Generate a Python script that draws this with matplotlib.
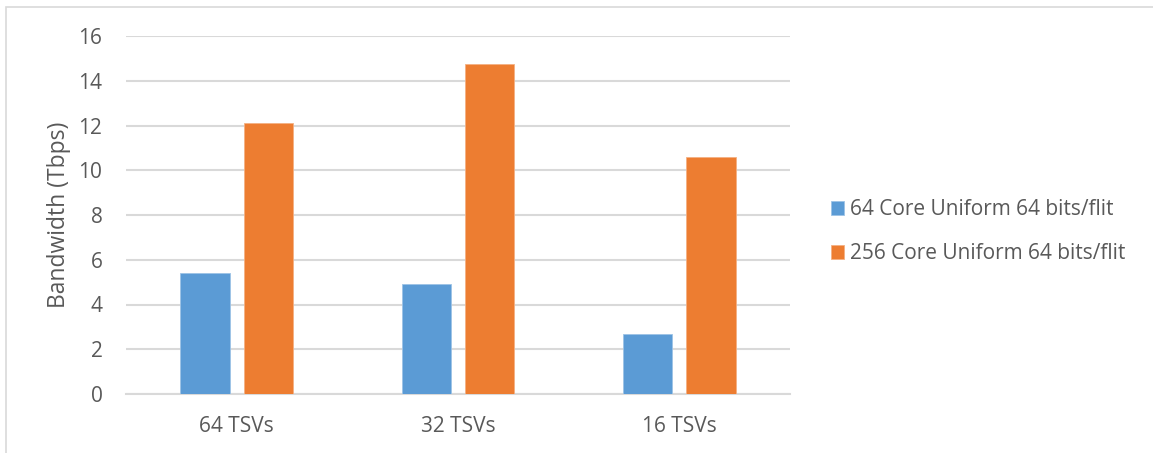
import matplotlib
matplotlib.use("Agg")
import matplotlib.pyplot as plt
from matplotlib.patches import Rectangle
import numpy as np

plt.rcParams['font.family'] = ['Open Sans', 'DejaVu Sans']

categories = ["64 TSVs", "32 TSVs", "16 TSVs"]
series_names = ["64 Core Uniform 64 bits/flit", "256 Core Uniform 64 bits/flit"]
core64 = [5.4, 4.9, 2.7]
core256 = [12.1, 14.75, 10.6]
y_ticks = [0, 2, 4, 6, 8, 10, 12, 14, 16]

W, H = 1153, 453
fig = plt.figure(figsize=(W / 100, H / 100), dpi=100)
text_color = "#595959"
grid_color = "#D9D9D9"

# light outer chart border
fig.patches.append(Rectangle((6 / W, -0.1), 1.2, (H - 7) / H + 0.1,
                             transform=fig.transFigure, fill=False,
                             edgecolor=grid_color, linewidth=1.2))

ax = fig.add_axes([126 / W, (H - 394) / H, (790 - 126) / W, (394 - 36) / H])

x = np.arange(len(categories))
width = 0.224
offset = 0.143
ax.bar(x - offset, core64, width, color="#5B9BD5", edgecolor="#9DC3E6",
       linewidth=0.6, label=series_names[0], zorder=3)
ax.bar(x + offset, core256, width, color="#ED7D31", edgecolor="#F4B183",
       linewidth=0.6, label=series_names[1], zorder=3)

ax.set_xlim(-0.5, 2.5)
ax.set_ylim(0, 16)
ax.set_yticks(y_ticks)
ax.set_yticklabels([str(v) for v in y_ticks])
ax.set_xticks(x)
ax.set_xticklabels(categories)

ax.yaxis.grid(True, color=grid_color, linewidth=1.5, zorder=0)
ax.set_axisbelow(True)
for side in ("top", "right", "left"):
    ax.spines[side].set_visible(False)
ax.spines["bottom"].set_color(grid_color)
ax.spines["bottom"].set_linewidth(1.5)
ax.tick_params(axis="both", length=0, labelsize=15, colors=text_color)
ax.tick_params(axis="y", pad=17)
ax.tick_params(axis="x", pad=16)

ax.set_ylabel("Bandwidth (Tbps)", fontsize=16.5, color=text_color, labelpad=5)

ax.legend(loc="center left", bbox_to_anchor=(831 / W, (H - 231.5) / H),
          bbox_transform=fig.transFigure, frameon=False, fontsize=15,
          handlelength=0.6, handleheight=0.65, handletextpad=0.33,
          labelspacing=1.1, borderpad=0, borderaxespad=0,
          labelcolor=text_color)

fig.savefig("out.png", dpi=100)
